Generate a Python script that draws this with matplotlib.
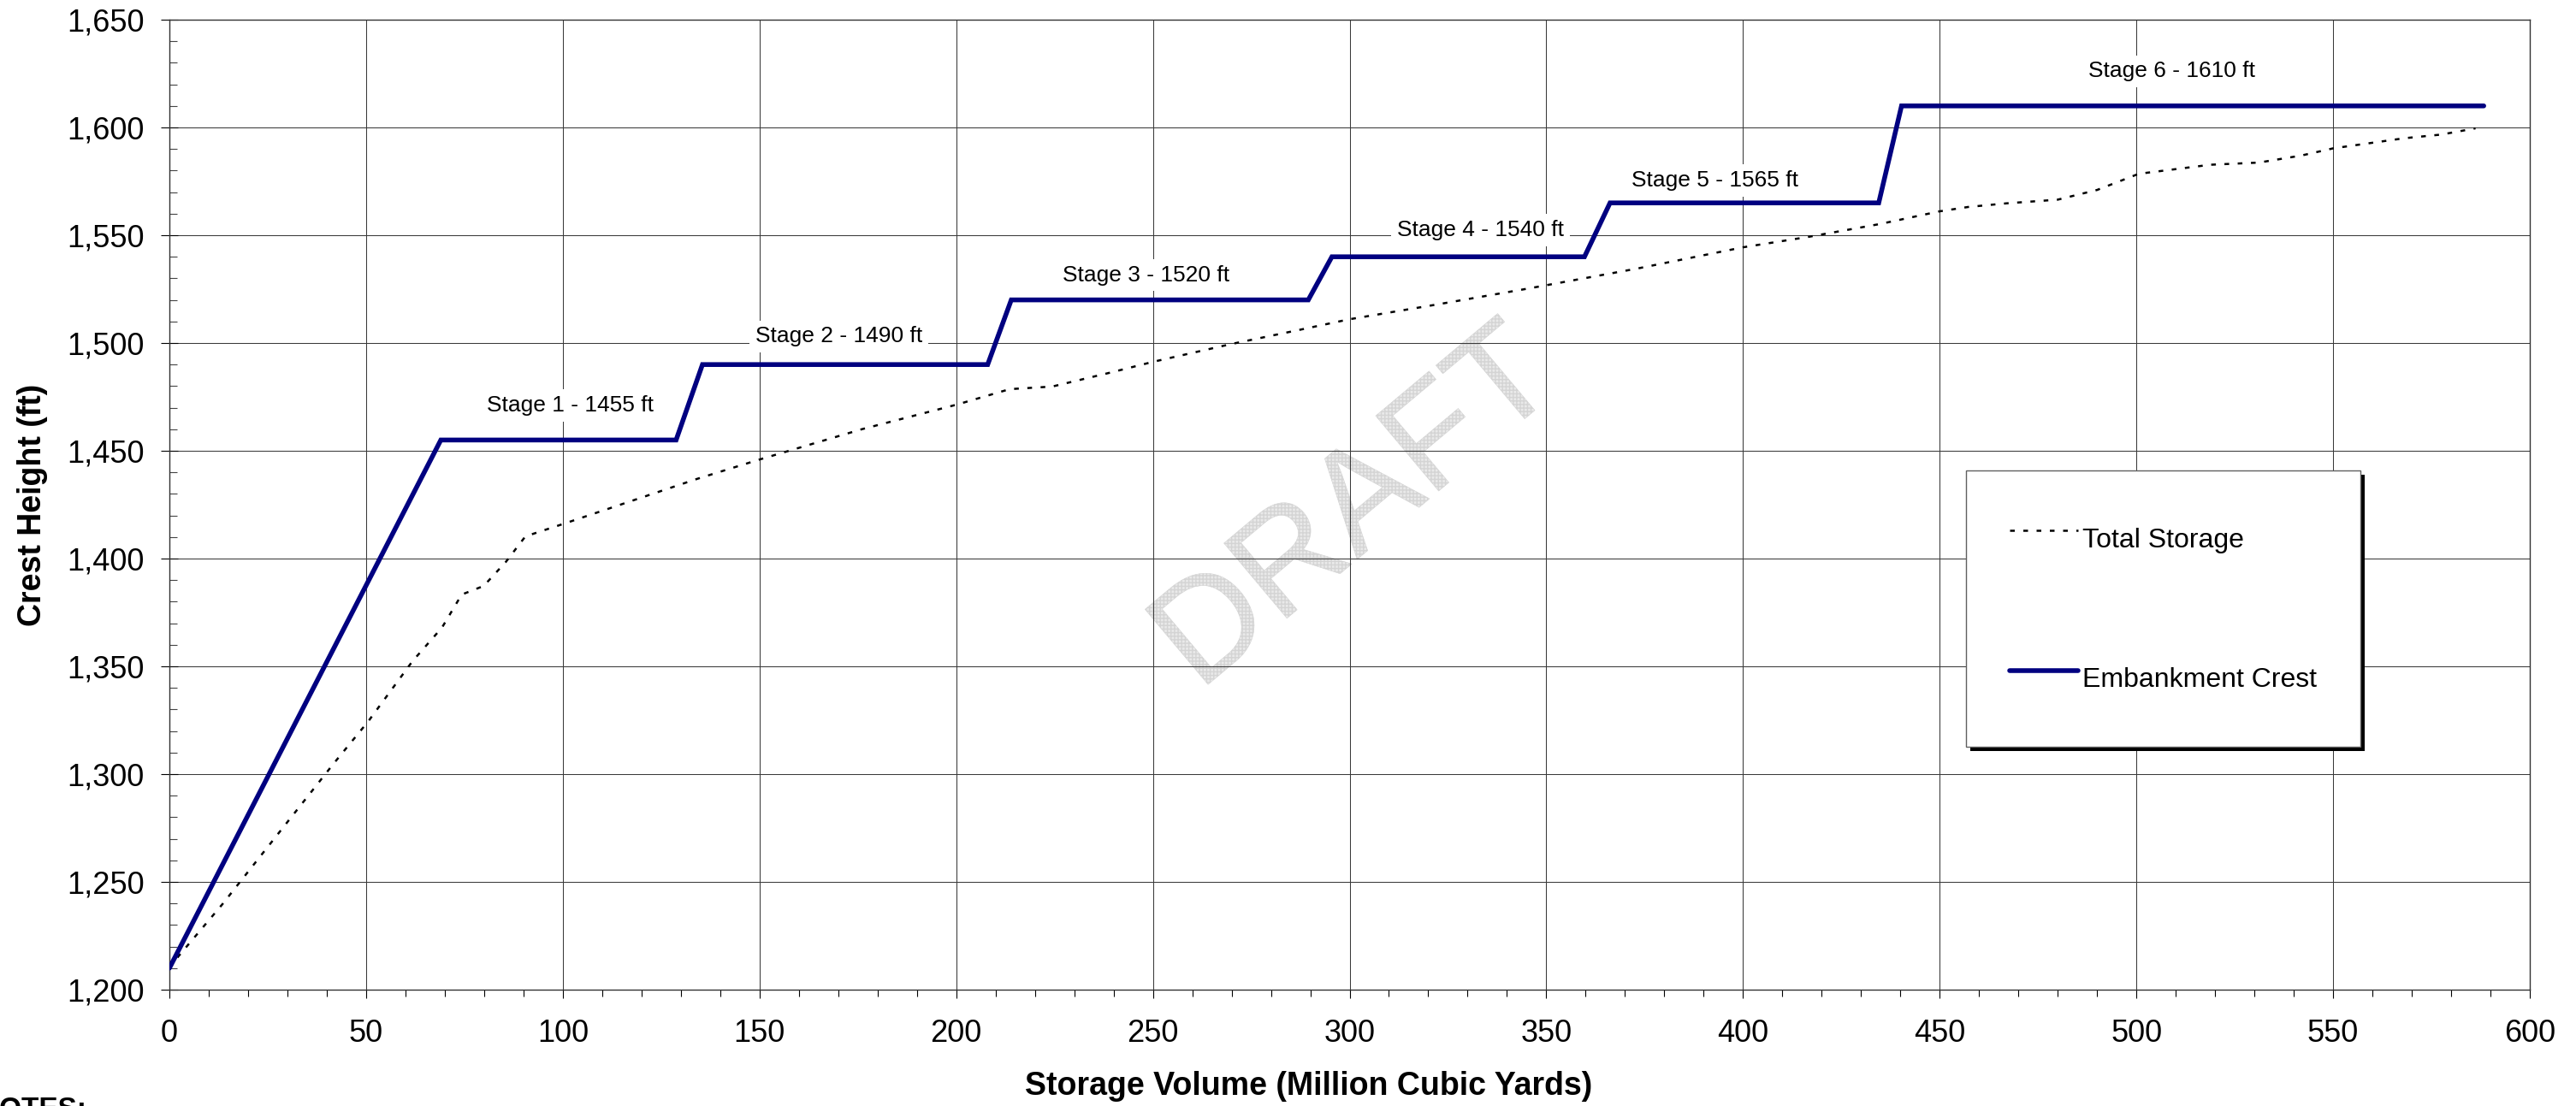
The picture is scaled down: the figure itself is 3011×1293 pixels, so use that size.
import matplotlib
matplotlib.use("Agg")
import matplotlib.pyplot as plt
from matplotlib import patheffects
from matplotlib.patches import Rectangle
from matplotlib.ticker import MultipleLocator, StrMethodFormatter

plt.rcParams["font.family"] = ["Liberation Sans", "DejaVu Sans"]

# Total storage curve (volume in million cubic yards, elevation in ft)
storage_vol = [0, 2.3, 13.5, 41.8, 50.6, 61.8, 69.3, 74.3, 79.9, 85.5, 90.5,
               100.5, 119.2, 134.2, 150.1, 176, 200.1, 213.6, 224.4, 239.7,
               250.1, 270.1, 287, 299.9, 322.3, 345.8, 373, 400, 416.5, 434.8,
               450, 457.2, 467, 480, 490, 500.6, 518.8, 531.1, 542, 550,
               568.1, 577.5, 586.2]
storage_elev = [1210, 1215.5, 1239.7, 1305, 1324.6, 1352.4, 1368, 1383.3,
                1387.3, 1398.4, 1410.3, 1416.3, 1427.8, 1437, 1446, 1460,
                1471.4, 1478.6, 1479.8, 1486.5, 1491.3, 1499.6, 1506, 1511,
                1517.9, 1525.4, 1534.5, 1544.4, 1549.2, 1555.2, 1561.1,
                1563.1, 1564.8, 1566.5, 1571, 1578.5, 1582.7, 1583.7, 1587,
                1590.3, 1595, 1596.7, 1599.6]

# Embankment crest staging
crest_vol = [0, 69, 128.8, 135.5, 208, 214, 289.5, 295.5, 359.7, 366.2,
             434.5, 440.3, 588.3]
crest_elev = [1210, 1455, 1455, 1490, 1490, 1520, 1520, 1540, 1540, 1565,
              1565, 1610, 1610]

stage_labels = ["Stage 1 - 1455 ft", "Stage 2 - 1490 ft", "Stage 3 - 1520 ft",
                "Stage 4 - 1540 ft", "Stage 5 - 1565 ft", "Stage 6 - 1610 ft"]
stage_x = [101.9, 170.2, 248.3, 333.2, 392.8, 509]
stage_y = [1471, 1503, 1531.5, 1552.5, 1575.5, 1626]

W, H = 3011, 1293
fig = plt.figure(figsize=(W / 100, H / 100), dpi=100)
ax = fig.add_axes([198 / W, 1 - 1157 / H, (2957 - 198) / W, (1157 - 23) / H])

ax.plot(storage_vol, storage_elev, color="black", lw=1.8,
        linestyle=(0, (2.2, 4.0)), label="Total Storage", zorder=3)
ax.plot(crest_vol, crest_elev, color="#000080", lw=4.0,
        solid_capstyle="round", solid_joinstyle="miter",
        label="Embankment Crest", zorder=4)

for txt, x, y in zip(stage_labels, stage_x, stage_y):
    ax.text(x, y, txt, fontsize=19, ha="center", va="center", zorder=3.5,
            bbox=dict(facecolor="white", edgecolor="none", pad=5))

# watermark
ax.text(302, 1422, "DRAFT", fontsize=120, rotation=40, ha="center",
        va="center", rotation_mode="anchor", zorder=0.3, color="#e8e8e8",
        path_effects=[patheffects.PathPatchEffect(
            offset=(0, 0), hatch="++++", facecolor="#e9e9e9",
            edgecolor="#d4d4d4", linewidth=0.4)])

ax.set_xlim(0, 600)
ax.set_ylim(1200, 1650)
ax.xaxis.set_major_locator(MultipleLocator(50))
ax.xaxis.set_minor_locator(MultipleLocator(10))
ax.yaxis.set_major_locator(MultipleLocator(50))
ax.yaxis.set_minor_locator(MultipleLocator(10))
ax.yaxis.set_major_formatter(StrMethodFormatter("{x:,.0f}"))

ax.set_axisbelow(True)
ax.grid(True, which="major", color="#3a3a3a", lw=0.75)

ax.tick_params(axis="x", which="major", direction="out", length=7.2,
               width=0.8, labelsize=26, pad=17)
ax.tick_params(axis="x", which="minor", direction="out", length=5.8, width=0.8)
ax.tick_params(axis="y", which="major", direction="inout", length=14.4,
               width=0.8, labelsize=26, pad=14)
ax.tick_params(axis="y", which="minor", direction="in", length=6.2,
               width=0.8, color="#444444")
for s in ax.spines.values():
    s.set_color("#333333")
    s.set_linewidth(1.0)

ax.set_xlabel("Storage Volume (Million Cubic Yards)", fontsize=27,
              fontweight="bold")
ax.xaxis.set_label_coords((1530 - 198) / 2759, (1157 - 1270) / 1134)
ax.xaxis.label.set_va("center")
ax.set_ylabel("Crest Height (ft)", fontsize=27, fontweight="bold")
ax.yaxis.set_label_coords((38 - 198) / 2759, 0.5)
ax.yaxis.label.set_va("center")

leg = ax.legend(loc="lower left",
                bbox_to_anchor=(2298 / W, 1 - 873 / H),
                bbox_transform=fig.transFigure,
                fontsize=23, frameon=True, fancybox=False, framealpha=1,
                edgecolor="#606060", borderpad=1.6, handleheight=2.4,
                labelspacing=3.3, handlelength=2.5, handletextpad=0.15,
                borderaxespad=0)
leg.get_frame().set_linewidth(1.0)
leg.set_zorder(6)

fig.text(-24 / W, 1 - 1282 / H, "NOTES:", fontsize=24, fontweight="bold",
         va="top", ha="left")

# black drop shadow behind the legend box
fig.canvas.draw()
bb = leg.get_window_extent().transformed(fig.transFigure.inverted())
ax.add_patch(Rectangle((bb.x0 + 5 / W, bb.y0 - 5 / H), bb.width, bb.height,
                       transform=fig.transFigure, facecolor="black",
                       edgecolor="none", zorder=5.9, clip_on=False))

fig.savefig("out.png", dpi=100)
